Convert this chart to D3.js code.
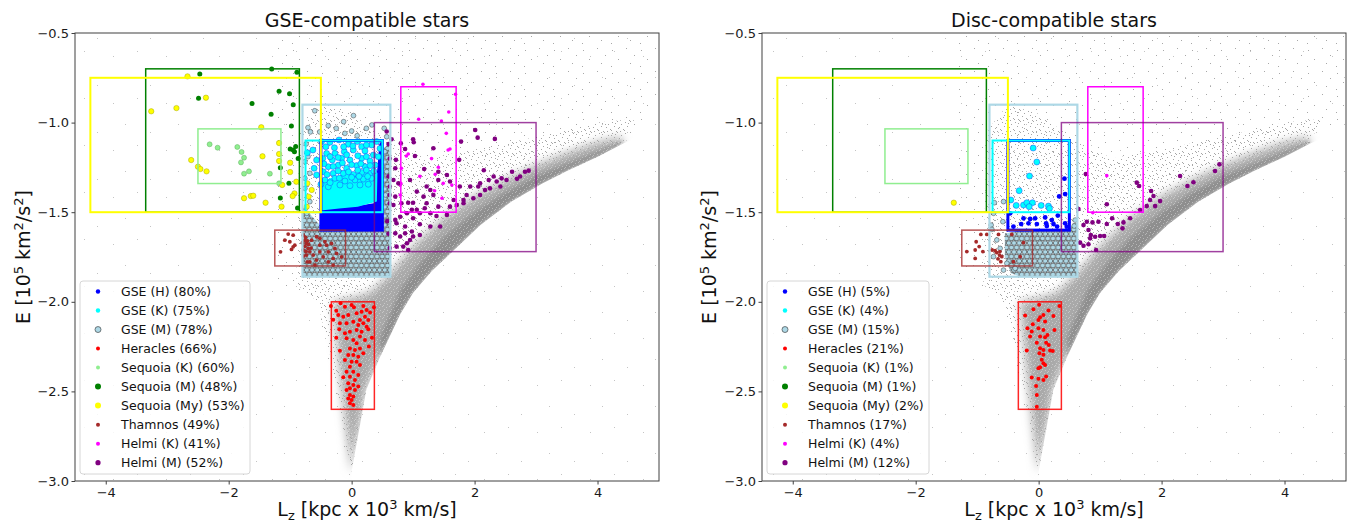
<!DOCTYPE html>
<html><head><meta charset="utf-8">
<script src="https://cdn.jsdelivr.net/npm/d3@7"></script>
<style>body{margin:0;background:#fff} text{font-family:"DejaVu Sans",sans-serif}</style>
</head><body><svg id="c" width="1349" height="523"></svg>
<script>
// ---------------- DATA ----------------
const xTicks=[-4,-2,0,2,4];
const yTicks=[-0.5,-1.0,-1.5,-2.0,-2.5,-3.0];
const seriesNames=["GSE (H)","GSE (K)","GSE (M)","Heracles","Sequoia (K)","Sequoia (M)","Sequoia (My)","Thamnos","Helmi (K)","Helmi (M)"];
const seriesColors=["#0000ff","#00ffff","#add8e6","#ff0000","#90ee90","#008000","#ffff00","#a52a2a","#ff00ff","#800080"];
const gsePct=[80,75,78,66,60,48,53,49,41,52];
const discPct=[5,4,15,21,1,1,2,17,4,12];
const panelTitles=["GSE-compatible stars","Disc-compatible stars"];
// selection boxes (same order as seriesNames)
const boxLzMin=[-0.5,-0.75,-0.8,-0.33,-2.5,-3.35,-4.25,-1.25,0.8,0.37];
const boxLzMax=[0.5,0.5,0.63,0.37,-1.15,-0.85,-0.5,-0.1,1.7,3.0];
const boxEMin=[-1.6,-1.5,-1.86,-2.6,-1.34,-1.5,-1.5,-1.8,-1.5,-1.72];
const boxEMax=[-1.1,-1.1,-0.9,-2.0,-1.035,-0.7,-0.75,-1.6,-0.8,-1.0];

// background star cloud outlines
const boundLz=[0,0.05,0.14,0.24,0.46,0.79,1.0,1.3,1.76,2.1,2.6,3.1,3.5,4.0,4.4];
const boundE=[-2.95,-2.85,-2.68,-2.49,-2.31,-2.07,-1.95,-1.83,-1.68,-1.57,-1.44,-1.34,-1.27,-1.19,-1.12];
const bandTopLz=[4.4,4.0,3.5,3.0,2.5,2.0,1.5,1.0,0.6,0.3,0.0];
const bandTopE=[-1.08,-1.11,-1.17,-1.24,-1.32,-1.41,-1.53,-1.69,-1.85,-1.95,-1.98];
const innerTopLz=[4.4,4.0,3.5,3.0,2.5,2.0,1.5,1.1,0.8,0.46];
const innerTopE=[-1.1,-1.16,-1.23,-1.3,-1.39,-1.5,-1.64,-1.79,-1.93,-2.2];
const hornLeftLz=[-0.3,-0.22,-0.13,-0.07,-0.02];
const hornLeftE=[-2.0,-2.3,-2.58,-2.77,-2.92];
const midTopLz=[4.6,4.0,3.0,2.0,1.2,0.6,0.0,-0.5,-0.85];
const midTopE=[-0.98,-1.0,-1.08,-1.15,-1.2,-1.1,-0.95,-0.9,-1.05];
const midLeftLz=[-0.9,-0.55,-0.35,-0.18,-0.08];
const midLeftE=[-1.9,-2.0,-2.3,-2.6,-2.85];
const sparseTopLz=[5.0,5.0,-1.3,-1.3,-0.6,-0.1];
const sparseTopE=[-0.95,-0.5,-0.5,-1.9,-2.0,-2.85];

// ---- GSE-compatible panel ----
const L_gseH=[];
const L_gseHcore=[[-0.5,-1.48],[0.0,-1.47],[0.36,-1.45],[0.42,-1.25],[0.45,-1.12],[0.5,-1.1],[0.5,-1.6],[-0.5,-1.6]];
const L_gseK=[[-0.489,-1.106],[-0.353,-1.11],[-0.206,-1.097],[-0.054,-1.121],[0.092,-1.106],[0.163,-1.134],[0.326,-1.125],[0.407,-1.106],[0.461,-1.144],
[-0.407,-1.172],[-0.272,-1.172],[-0.12,-1.162],[0.027,-1.153],[0.217,-1.158],[0.353,-1.181],[-0.315,-1.209],[-0.163,-1.199],[-0.027,-1.209],[0.163,-1.199],[0.298,-1.214],[0.434,-1.19],
[-0.38,-1.246],[-0.217,-1.237],[-0.082,-1.255],[0.081,-1.24],[0.217,-1.246],[0.38,-1.237],[-0.462,-1.274],[-0.299,-1.283],[-0.136,-1.283],[0.027,-1.289],[0.163,-1.278],[0.298,-1.283],
[-0.434,-1.32],[-0.272,-1.311],[-0.109,-1.326],[0.054,-1.32],[0.19,-1.315],[0.326,-1.311],[-0.38,-1.358],[-0.19,-1.348],[-0.027,-1.352],[0.136,-1.348],[0.271,-1.344],
[-0.72,-1.168],[-0.63,-1.153],[-0.57,-1.209],[-0.61,-1.255],[-0.57,-1.292],[-0.5,-1.344],
[-0.42,-1.135],[-0.28,-1.14],[-0.13,-1.135],[0.02,-1.13],[0.24,-1.125],
[-0.47,-1.2],[-0.35,-1.19],[-0.22,-1.195],[-0.08,-1.18],[0.1,-1.185],[0.24,-1.19],
[-0.45,-1.23],[-0.3,-1.245],[-0.15,-1.225],[0.0,-1.235],[0.15,-1.23],[0.3,-1.24],
[-0.4,-1.29],[-0.22,-1.27],[-0.05,-1.275],[0.1,-1.265],[0.24,-1.265],[0.36,-1.27],
[-0.35,-1.335],[-0.2,-1.31],[0.0,-1.305],[0.12,-1.3],[0.26,-1.3]];
const L_gseKcore=[[-0.5,-1.33],[-0.35,-1.31],[-0.15,-1.29],[0.1,-1.28],[0.3,-1.27],[0.42,-1.28],[0.41,-1.44],[0.1,-1.47],[-0.2,-1.48],[-0.5,-1.49]];
const L_gseM=[[-0.6,-0.934],[0.03,-0.961],[-0.38,-1.017],[-0.13,-0.995],[-0.25,-1.032],[-0.52,-1.052],[-0.71,-1.028],[-0.67,-1.052],[-0.11,-1.06],[0.0,-1.047],[0.09,-1.073],[0.24,-1.032],[0.33,-1.013],
[-0.74,-1.119],[-0.76,-1.218],[-0.71,-1.19],[-0.76,-1.311],[-0.68,-1.283],[-0.76,-1.367],[-0.68,-1.441],[-0.73,-1.506],[0.54,-1.162],[0.57,-1.274],[0.55,-1.404],[0.6,-1.553],[0.53,-1.032],[0.57,-1.079]];
const L_gseMcore=[[-0.8,-1.47],[-0.65,-1.52],[-0.5,-1.58],[0.5,-1.58],[0.5,-1.15],[0.6,-1.12],[0.63,-1.2],[0.63,-1.86],[-0.8,-1.86]];
const L_heracles=[[-0.337,-2.023],[-0.18,-2.008],[-0.109,-2.027],[0.0,-2.018],[0.038,-2.031],[0.19,-2.023],[0.363,-2.031],[0.244,-2.046],
[-0.218,-2.073],[-0.136,-2.083],[-0.055,-2.073],[0.081,-2.064],[0.162,-2.055],[0.217,-2.083],[0.135,-2.101],[0.271,-2.101],
[-0.191,-2.12],[-0.082,-2.12],[0.027,-2.111],[0.108,-2.129],[0.19,-2.12],[0.244,-2.139],
[-0.201,-2.153],[-0.109,-2.176],[-0.028,-2.167],[0.081,-2.157],[0.162,-2.167],[0.271,-2.153],
[-0.082,-2.204],[0.027,-2.213],[0.135,-2.194],[0.217,-2.213],[0.081,-2.232],[-0.191,-2.273],
[-0.028,-2.26],[0.054,-2.269],[0.135,-2.26],[-0.055,-2.297],[0.027,-2.297],[0.108,-2.306],[0.19,-2.287],
[-0.109,-2.325],[0.0,-2.334],[0.081,-2.334],[0.135,-2.353],[-0.028,-2.362],
[-0.082,-2.39],[0.027,-2.39],[0.108,-2.408],[-0.028,-2.418],[-0.136,-2.421],[0.054,-2.436],
[-0.055,-2.455],[0.027,-2.464],[-0.028,-2.483],[0.108,-2.473],[-0.082,-2.492],[0.054,-2.492],
[-0.028,-2.52],[0.027,-2.529],[-0.055,-2.539],[0.0,-2.548],[-0.028,-2.566],[0.027,-2.576],
[-0.25,-2.05],[-0.3,-2.1],[0.3,-2.06],[0.33,-2.2],[-0.25,-2.2],[0.28,-2.25]];
const L_seqK=[[-2.31,-1.121],[-2.18,-1.14],[-1.86,-1.136],[-1.79,-1.164],[-1.75,-1.196],[-1.8,-1.222],[-1.67,-1.272],[-1.75,-1.285],[-1.33,-1.285],[-1.18,-1.339]];
const L_seqM=[[-2.47,-0.729],[-1.3,-0.701],[-0.89,-0.719],[-2.49,-0.864],[-1.62,-0.894],[-1.31,-0.954],[-1.18,-0.825],[-1.01,-0.839],[-0.95,-0.9],[-0.98,-1.019],
[-1.0,-1.147],[-0.95,-1.153],[-0.91,-1.134],[-0.87,-1.201],[-0.93,-1.162],[-1.16,-1.252],[-1.02,-1.339],[-1.16,-1.421],[-0.88,-1.477]];
const L_seqMy=[[-2.67,-0.742],[-2.37,-0.861],[-3.26,-0.937],[-2.85,-0.919],[-1.47,-1.026],[-2.61,-1.209],[-2.5,-1.246],[-2.46,-1.259],[-2.36,-1.272],[-1.45,-1.188],
[-1.18,-1.114],[-1.18,-1.175],[-1.18,-1.214],[-1.0,-1.224],[-1.0,-1.276],[-1.13,-1.348],[-0.9,-1.33],[-0.93,-1.395],[-0.96,-1.41],[-1.75,-1.422],
[-1.64,-1.41],[-1.6,-1.408],[-1.4,-1.447],[-1.14,-1.469],[-0.72,-1.339],[-0.7,-1.413],[-0.65,-1.376],[-0.73,-1.469]];
const L_thamnos=[[-1.032,-1.622],[-0.951,-1.628],[-1.087,-1.656],[-1.005,-1.665],[-0.924,-1.684],[-0.951,-1.693],[-1.157,-1.721],[-0.978,-1.708],[-0.788,-1.628],[-0.761,-1.656],
[-0.734,-1.674],[-0.707,-1.702],[-0.788,-1.711],[-0.68,-1.721],[-0.734,-1.739],[-0.652,-1.656],[-0.571,-1.637],[-0.517,-1.646],[-0.435,-1.665],[-0.408,-1.684],
[-0.327,-1.674],[-0.272,-1.702],[-0.381,-1.721],[-0.517,-1.721],[-0.625,-1.739],[-0.571,-1.767],[-0.68,-1.777],[-0.598,-1.795],[-0.381,-1.777],[-0.3,-1.758],
[-0.245,-1.73],[-0.164,-1.749],[-0.462,-1.749],[-0.3,-1.795],[-0.517,-1.684],[-0.723,-1.777],
[-0.75,-1.64],[-0.72,-1.66],[-0.76,-1.69],[-0.7,-1.68],[-0.74,-1.72],[-0.78,-1.745],[-0.66,-1.7],[-0.8,-1.67]];
const L_helmiK=[[1.16,-0.786],[1.69,-0.842],[1.58,-0.941],[1.46,-0.991],[1.09,-0.981],[1.54,-1.06],[1.6,-1.147],[1.57,-1.153],[1.3,-1.201],[0.92,-1.175],
[0.89,-1.186],[1.41,-1.249],[1.36,-1.288],[1.11,-1.3],[0.81,-1.255],[0.8,-1.339],[0.79,-1.348],[1.49,-1.339],[1.63,-1.348],[1.35,-1.38],[0.79,-1.404],[1.47,-1.422],[0.88,-1.502]];
const L_helmiM=[[2.01,-1.041],[2.05,-1.084],[2.33,-1.091],[1.78,-1.106],[1.0,-1.093],[1.01,-1.11],[0.8,-1.115],[1.33,-1.143],[0.87,-1.147],[0.65,-1.093],
[1.03,-1.186],[1.75,-1.208],[1.18,-1.259],[0.72,-1.208],[0.71,-1.255],[2.15,-1.266],[2.61,-1.274],[2.82,-1.274],[2.88,-1.268],[1.55,-1.292],
[1.41,-1.274],[2.31,-1.301],[2.44,-1.311],[2.52,-1.32],[2.69,-1.314],[2.74,-1.301],[0.95,-1.32],[0.68,-1.32],[0.76,-1.339],[0.62,-1.357],
[1.22,-1.357],[1.41,-1.32],[1.6,-1.329],[1.76,-1.357],[1.93,-1.357],[2.06,-1.357],[2.09,-1.339],[2.23,-1.32],[2.36,-1.329],[1.28,-1.376],
[1.06,-1.385],[1.33,-1.404],[1.87,-1.404],[1.98,-1.422],[1.82,-1.432],[1.66,-1.432],[1.17,-1.413],[1.22,-1.45],[0.92,-1.447],[1.0,-1.447],
[0.81,-1.45],[0.68,-1.46],[0.62,-1.404],[0.71,-1.413],[2.09,-1.404],[2.17,-1.376],[2.25,-1.367],[2.42,-1.357],[1.41,-1.469],[1.19,-1.478],
[1.06,-1.487],[0.98,-1.487],[0.9,-1.506],[0.79,-1.525],[0.71,-1.543],[1.0,-1.534],[1.11,-1.506],[1.28,-1.506],[1.38,-1.521],[1.55,-1.515],
[1.6,-1.469],[1.71,-1.46],[1.82,-1.45],[0.73,-1.562],[0.87,-1.58],[1.11,-1.567],[1.28,-1.58],[1.44,-1.58],[0.71,-1.618],[0.79,-1.636],
[0.87,-1.618],[0.98,-1.608],[1.0,-1.636],[0.95,-1.655],[1.11,-1.627],[0.9,-1.673],[0.84,-1.692],[0.73,-1.692],[0.92,-1.711],
[0.57,-1.05],[0.6,-1.12],[0.62,-1.2],[0.6,-1.3],[0.62,-1.45],[0.58,-1.55],[0.6,-1.62],[0.62,-1.7]];

// ---- Disc-compatible panel ----
const R_gseH=[[0.42,-1.313],[0.334,-1.412],[0.431,-1.399],[-0.463,-1.506],[-0.246,-1.534],[-0.138,-1.538],[-0.057,-1.534],[-0.284,-1.566],[-0.165,-1.562],[0.106,-1.529],
[0.122,-1.562],[0.214,-1.544],[0.312,-1.519],[0.242,-1.566],[0.458,-1.581],[0.431,-1.562],[-0.029,-1.566],[0.133,-1.577],[-0.41,-1.58],[0.3,-1.58]];
const R_gseHcore=[];
const R_gseK=[[-0.089,-1.142],[-0.03,-1.22],[-0.149,-1.298],[-0.317,-1.38],[-0.452,-1.432],[-0.365,-1.462],[-0.246,-1.46],[-0.192,-1.447],[-0.1,-1.447],[-0.154,-1.469],
[0.041,-1.462],[0.16,-1.466],[0.177,-1.479]];
const R_gseKcore=[];
const R_gseM=[[-0.571,-1.441],[-0.734,-1.506],[-0.582,-1.553],[-0.772,-1.572],[-0.761,-1.596],[0.594,-1.544],[0.578,-1.577],[-0.68,-1.655],[-0.626,-1.702],[-0.734,-1.748],
[-0.517,-1.785],[-0.571,-1.823],[-0.382,-1.813],[-0.72,-1.447]];
const R_gseMcore=[[-0.55,-1.62],[-0.3,-1.6],[0.5,-1.6],[0.56,-1.56],[0.63,-1.56],[0.63,-1.86],[-0.3,-1.86],[-0.45,-1.84],[-0.55,-1.75]];
const R_heracles=[[0.008,-2.017],[0.338,-2.023],[-0.084,-2.042],[-0.22,-2.077],[0.078,-2.073],[0.024,-2.086],[0.16,-2.049],[0.241,-2.079],[0.105,-2.11],[-0.003,-2.101],
[-0.095,-2.125],[-0.182,-2.148],[-0.003,-2.148],[0.078,-2.157],[-0.112,-2.166],[0.257,-2.157],[0.143,-2.185],[0.024,-2.194],[0.105,-2.198],[-0.139,-2.194],
[-0.03,-2.228],[0.122,-2.228],[0.165,-2.241],[0.024,-2.259],[0.078,-2.269],[0.187,-2.272],[0.23,-2.274],[-0.193,-2.272],[0.013,-2.287],[0.078,-2.296],
[0.051,-2.324],[0.105,-2.352],[0.078,-2.343],[-0.003,-2.371],[0.024,-2.365],[-0.112,-2.423],[-0.003,-2.43],[0.078,-2.436],[0.122,-2.417],[-0.041,-2.47],
[-0.03,-2.52],[-0.03,-2.585]];
const R_seqK=[];
const R_seqM=[];
const R_seqMy=[[-1.38,-1.447]];
const R_thamnos=[[-1.168,-1.72],[-1.032,-1.711],[-1.016,-1.665],[-0.94,-1.624],[-0.843,-1.624],[-0.967,-1.692],[-0.907,-1.72],[-1.032,-1.758],[-0.756,-1.711],[-0.707,-1.715],
[-0.68,-1.726],[-0.636,-1.739],[-0.599,-1.748],[-0.615,-1.776],[-0.409,-1.776],[-0.3,-1.748],[-0.246,-1.67],[-0.436,-1.624],[-0.653,-1.624],[-0.66,-1.76],[-0.63,-1.72]];
const R_helmiK=[[1.109,-1.296],[0.881,-1.503]];
const R_helmiM=[[2.941,-1.233],[2.87,-1.27],[2.301,-1.298],[2.518,-1.333],[2.42,-1.354],[1.83,-1.382],[1.868,-1.41],[1.976,-1.438],[1.813,-1.432],[1.895,-1.466],
[1.597,-1.335],[1.635,-1.354],[1.759,-1.466],[1.651,-1.488],[1.488,-1.534],[1.38,-1.557],[1.288,-1.566],[1.109,-1.566],[1.364,-1.59],[0.973,-1.553],
[0.876,-1.557],[0.784,-1.553],[0.767,-1.287],[0.648,-1.482],[0.73,-1.572],[0.811,-1.599],[0.849,-1.627],[0.838,-1.646],[0.919,-1.637],[1.0,-1.633],
[1.066,-1.633],[0.675,-1.67],[0.73,-1.687],[0.811,-1.679],[0.935,-1.711],[1.109,-1.456],[1.196,-1.534]];

// ---------------- DRAWING ----------------
const svg=d3.select("#c");
const defs=svg.append("defs");
function dotPattern(id,w,h,dots,color){
  const p=defs.append("pattern").attr("id",id).attr("patternUnits","userSpaceOnUse").attr("width",w).attr("height",h);
  dots.forEach(([a,b])=>p.append("rect").attr("x",a).attr("y",b).attr("width",1).attr("height",1).attr("fill",color));
}
// stipple textures (styling only)
dotPattern("pVS",53,47,[[7,9],[31,4],[19,30],[44,38]],"#c4c4c4");
dotPattern("pS",29,23,[[3,4],[17,2],[25,9],[9,13],[21,17],[2,20]],"#a8a8a8");
dotPattern("pM",13,11,[[1,1],[6,0],[10,3],[3,5],[8,6],[12,8],[0,9],[5,10],[9,10],[4,2]],"#a6a6a6");
dotPattern("pW",7,6,[[1,1],[4,0],[6,3],[2,4],[5,5]],"#ffffff");
(function(){
  const p=defs.append("pattern").attr("id","pGseM").attr("patternUnits","userSpaceOnUse").attr("width",5.2).attr("height",9);
  [[0,0],[5.2,0],[0,9],[5.2,9],[2.6,4.5]].forEach(([a,b])=>p.append("circle").attr("cx",a).attr("cy",b).attr("r",2.35)
    .attr("fill","#add8e6").attr("stroke","#2b2b2b").attr("stroke-width",0.55));
})();
const fB=defs.append("filter").attr("id","blurA").attr("x","-20%").attr("y","-20%").attr("width","140%").attr("height","140%");
fB.append("feGaussianBlur").attr("stdDeviation",5);
const fB2=defs.append("filter").attr("id","blurB").attr("x","-20%").attr("y","-20%").attr("width","140%").attr("height","140%");
fB2.append("feGaussianBlur").attr("stdDeviation",2.2);

const zip=(a,b)=>a.map((v,i)=>[v,b[i]]);
const bound=zip(boundLz,boundE);

const panels=[
 {left:75,right:659,ylab:30,pct:gsePct,
  data:[L_gseH,L_gseK,L_gseM,L_heracles,L_seqK,L_seqM,L_seqMy,L_thamnos,L_helmiK,L_helmiM],
  cores:{0:L_gseHcore,1:L_gseKcore,2:L_gseMcore},legX:80,legW:170},
 {left:762,right:1346,ylab:716,pct:discPct,
  data:[R_gseH,R_gseK,R_gseM,R_heracles,R_seqK,R_seqM,R_seqMy,R_thamnos,R_helmiK,R_helmiM],
  cores:{0:R_gseHcore,1:R_gseKcore,2:R_gseMcore},legX:767,legW:162}
];
const plotTop=33,plotBottom=481;
const radius=[2.4,3.0,2.4,2.0,2.5,2.5,2.7,1.9,1.8,2.3];
const strokeC=[null,"#1a3cff","#2b2b2b",null,"#55aa55",null,"#a0a000",null,null,null];
const boxW=[3,2,2.2,1.5,1.5,1.5,2,1.5,1.5,1.5];
const boxOp=[1,1,1,0.85,1,1,1,0.8,1,0.75];
const legR=[2.2,2.2,3.0,2.0,2.0,3.0,3.0,2.0,2.0,2.6];

panels.forEach((P,pi)=>{
  const x=d3.scaleLinear().domain([-4.5,5]).range([P.left,P.right]);
  const y=d3.scaleLinear().domain([-3,-0.5]).range([plotBottom,plotTop]);
  const g=svg.append("g");
  const cid="clip"+pi;
  defs.append("clipPath").attr("id",cid).append("rect").attr("x",P.left).attr("y",plotTop).attr("width",P.right-P.left).attr("height",plotBottom-plotTop);
  const poly=pts=>"M"+pts.map(d=>x(d[0])+","+y(d[1])).join("L")+"Z";
  const aid="above"+pi;
  defs.append("clipPath").attr("id",aid).append("path")
    .attr("d",poly(bound.concat([[5.2,-1.0],[5.2,-0.4],[-4.7,-0.4],[-4.7,-3.1],[0.0,-3.1]])));
  const pg=g.append("g").attr("clip-path",`url(#${cid})`);

  // background star cloud
  pg.append("rect").attr("x",P.left).attr("y",plotTop).attr("width",P.right-P.left).attr("height",plotBottom-plotTop).attr("fill","url(#pVS)");
  pg.append("path").attr("d",poly(bound.concat(zip(sparseTopLz,sparseTopE)))).attr("fill","url(#pS)");
  pg.append("path").attr("d",poly(bound.concat(zip(midTopLz,midTopE),zip(midLeftLz,midLeftE)))).attr("fill","url(#pM)");
  const cg=pg.append("g").attr("clip-path",`url(#${aid})`);
  const bandPoly=bound.concat(zip(bandTopLz,bandTopE),zip(hornLeftLz,hornLeftE));
  cg.append("path").attr("d",poly(bandPoly)).attr("fill","#a9a9a9").attr("filter","url(#blurA)");
  cg.append("path").attr("d",poly(bound.filter(d=>d[0]>=0.46).concat(zip(innerTopLz,innerTopE)))).attr("fill","#8e8e8e").attr("filter","url(#blurB)");
  cg.append("path").attr("d",poly(bandPoly)).attr("fill","url(#pW)").attr("opacity",0.35);

  const order=[2,0,1,3,4,5,6,7,8,9];
  order.forEach(i=>{
    const core=P.cores[i];
    if(core && core.length){
      pg.append("path").attr("d",poly(core)).attr("fill", i===2?"url(#pGseM)":seriesColors[i]);
    }
    pg.append("g").selectAll("circle").data(P.data[i]).join("circle")
      .attr("cx",d=>x(d[0])).attr("cy",d=>y(d[1])).attr("r",radius[i])
      .attr("fill",seriesColors[i])
      .attr("stroke",strokeC[i]||"none").attr("stroke-width",strokeC[i]?0.45:0);
  });
  seriesNames.forEach((n,i)=>{
    pg.append("rect").attr("x",x(boxLzMin[i])).attr("y",y(boxEMax[i]))
      .attr("width",x(boxLzMax[i])-x(boxLzMin[i])).attr("height",y(boxEMin[i])-y(boxEMax[i]))
      .attr("fill","none").attr("stroke",seriesColors[i]).attr("stroke-width",boxW[i]).attr("stroke-opacity",boxOp[i]);
  });

  g.append("rect").attr("x",P.left).attr("y",plotTop).attr("width",P.right-P.left).attr("height",plotBottom-plotTop)
    .attr("fill","none").attr("stroke","#404040").attr("stroke-width",1);
  const ax=g.append("g").attr("transform",`translate(0,${plotBottom})`)
    .call(d3.axisBottom(x).tickValues(xTicks).tickFormat(d3.format("d")).tickSize(3.5).tickPadding(3.5));
  const ay=g.append("g").attr("transform",`translate(${P.left},0)`)
    .call(d3.axisLeft(y).tickValues(yTicks).tickFormat(d3.format(".1f")).tickSize(3.5).tickPadding(2.5));
  [ax,ay].forEach(a=>{a.select(".domain").remove();a.selectAll("line").attr("stroke","#404040");
    a.selectAll("text").attr("font-size",13).attr("fill","#1a1a1a").attr("font-family","DejaVu Sans");});

  const cx=(P.left+P.right)/2;
  g.append("text").attr("x",cx).attr("y",27).attr("text-anchor","middle").attr("font-size",19).attr("fill","#111").text(panelTitles[pi]);
  const xl=g.append("text").attr("x",cx).attr("y",516).attr("text-anchor","middle").attr("font-size",19).attr("fill","#111");
  xl.append("tspan").text("L");
  xl.append("tspan").attr("font-size",13).attr("dy",4).text("z");
  xl.append("tspan").attr("dy",-4).text(" [kpc x 10");
  xl.append("tspan").attr("font-size",13).attr("dy",-7).text("3");
  xl.append("tspan").attr("dy",7).text(" km/s]");
  const yl=g.append("text").attr("transform",`translate(${P.ylab},257) rotate(-90)`).attr("text-anchor","middle").attr("font-size",19).attr("fill","#111");
  yl.append("tspan").text("E [10");
  yl.append("tspan").attr("font-size",13).attr("dy",-7).text("5");
  yl.append("tspan").attr("dy",7).text(" km");
  yl.append("tspan").attr("font-size",13).attr("dy",-7).text("2");
  yl.append("tspan").attr("dy",7).text("/s");
  yl.append("tspan").attr("font-size",13).attr("dy",-7).text("2");
  yl.append("tspan").attr("dy",7).text("]");

  const lg=g.append("g");
  lg.append("rect").attr("x",P.legX).attr("y",281).attr("width",P.legW).attr("height",193).attr("rx",3)
    .attr("fill","#fff").attr("fill-opacity",0.85).attr("stroke","#d6d6d6").attr("stroke-width",1);
  seriesNames.forEach((n,i)=>{
    const yy=291.5+i*19.02;
    lg.append("circle").attr("cx",P.legX+18).attr("cy",yy).attr("r",legR[i]).attr("fill",seriesColors[i])
      .attr("stroke",i===2?"#2b2b2b":"none").attr("stroke-width",0.6);
    lg.append("text").attr("x",P.legX+41).attr("y",yy).attr("dy","0.36em").attr("font-size",12.5).attr("fill","#111")
      .text(`${n} (${P.pct[i]}%)`);
  });
});
</script></body></html>
